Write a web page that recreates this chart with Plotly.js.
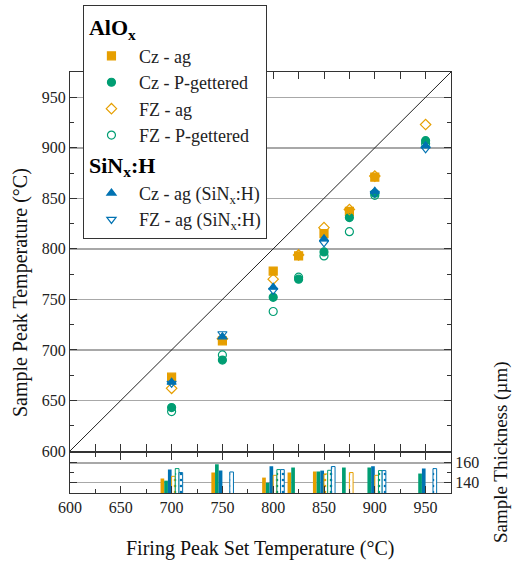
<!DOCTYPE html>
<html>
<head>
<meta charset="utf-8">
<script src="https://cdn.plot.ly/plotly-3.0.1.min.js"></script>
<style>html,body{margin:0;padding:0;background:#fff;}#chart{width:512px;height:563px;}</style>
</head>
<body>
<div id="chart"></div>
<script>
// ---- data ----
const temps = [700, 750, 800, 825, 850, 875, 900, 950];
// sample peak temperatures (°C)
const czAg      = [673, 709, 778, 793, 815, 837, 871, null];
const czP       = [643, 690, 752, 770, 797, 831, 855, 907];
const fzAg      = [662, 711, 770, 794, 821, 839, 872, 923];
const fzP       = [639, 695, 738, 772, 793, 817, 853, 904];
const czAgSiN   = [668, 713, 762, null, 810, null, 857, 902];
const fzAgSiN   = [667, 716, 759, null, 806, null, 855, 899];
// sample thickness (µm)
const thkCzAg    = [144.1, 150.2, 145.1, 150.2, 151.2, null, null, null];
const thkCzP     = [142.0, 158.6, 140.0, 155.3, 151.2, 155.3, 155.3, 149.2];
const thkCzSiN   = [153.2, 152.2, 156.6, null, 152.2, null, 156.6, 154.2];
const thkFzAg    = [146.4, null, 147.4, null, 148.8, 150.2, 147.4, null];
const thkFzP     = [154.2, null, 153.2, null, 152.5, null, 152.2, null];
const thkFzSiN   = [150.2, 150.8, 153.2, null, 156.3, null, 152.2, 154.2];
// identity reference line
const diagonal = [600, 975];

const ORANGE = '#E69F00', GREEN = '#009E73', BLUE = '#0072B2';
const FONT = 'Liberation Serif';

function sc(name, y, symbol, color, group, gtitle) {
  const t = {
    type: 'scatter', mode: 'markers', name: name, x: temps, y: y,
    xaxis: 'x', yaxis: 'y',
    marker: {symbol: symbol, size: 8, color: color, line: {color: color, width: 1.2}},
    legendgroup: group
  };
  if (gtitle) t.legendgrouptitle = {text: gtitle, font: {family: FONT, size: 22, color: '#000'}};
  return t;
}
function bar(y, color, open) {
  const m = open
    ? {color: '#ffffff', line: {color: color, width: 1},
       pattern: {shape: '.', fgcolor: color, bgcolor: '#ffffff', size: 6, solidity: 0.15}}
    : {color: color, line: {width: 0}};
  return {type: 'bar', x: temps, y: y, xaxis: 'x', yaxis: 'y2', marker: m,
          showlegend: false, hoverinfo: 'skip'};
}

const aloxTitle = '<b>AlO<sub>x</sub></b>';
const sinTitle = '<b>SiN<sub>x</sub>:H</b>';

const data = [
  {type: 'scatter', mode: 'lines', x: diagonal, y: diagonal, xaxis: 'x', yaxis: 'y',
   line: {color: '#222', width: 1}, showlegend: false, hoverinfo: 'skip'},
  bar(thkCzAg, ORANGE, false),
  bar(thkCzP, GREEN, false),
  bar(thkCzSiN, BLUE, false),
  bar(thkFzAg, ORANGE, true),
  bar(thkFzP, GREEN, true),
  bar(thkFzSiN, BLUE, true),
  sc('Cz - ag', czAg, 'square', ORANGE, 'alox', aloxTitle),
  sc('Cz - P-gettered', czP, 'circle', GREEN, 'alox'),
  sc('FZ - ag', fzAg, 'diamond-open', ORANGE, 'alox'),
  sc('FZ - P-gettered', fzP, 'circle-open', GREEN, 'alox'),
  sc('Cz - ag (SiN<sub>x</sub>:H)', czAgSiN, 'triangle-up', BLUE, 'sin', sinTitle),
  sc('FZ - ag (SiN<sub>x</sub>:H)', fzAgSiN, 'triangle-down-open', BLUE, 'sin')
];

const axisCommon = {
  showline: true, linecolor: '#333', linewidth: 1,
  ticks: 'inside', tickcolor: '#333', tickwidth: 1,
  tickfont: {family: FONT, size: 16, color: '#222'},
  zeroline: false
};

const layout = {
  width: 512, height: 563,
  margin: {l: 70, r: 61, t: 72, b: 70, autoexpand: false},
  paper_bgcolor: '#fff', plot_bgcolor: '#fff',
  font: {family: FONT, color: '#111'},
  barmode: 'group', bargap: 0.13, bargroupgap: 0,
  showlegend: true,
  legend: {
    x: 0.034, y: 1.159, xanchor: 'left', yanchor: 'top',
    bgcolor: '#fff', bordercolor: '#333', borderwidth: 1,
    font: {family: FONT, size: 18, color: '#222'},
    tracegroupgap: 0, traceorder: 'grouped', itemwidth: 45
  },
  xaxis: Object.assign({}, axisCommon, {
    anchor: 'y2', domain: [0, 1], range: [600, 975],
    tick0: 600, dtick: 50, ticklen: 7, mirror: 'allticks', showgrid: false,
    minor: {dtick: 25, ticks: 'inside', ticklen: 4, tickcolor: '#333', showgrid: false}
  }),
  yaxis: Object.assign({}, axisCommon, {
    anchor: 'x', domain: [0.0998, 1], range: [600, 975],
    tick0: 600, dtick: 50, ticklen: 7, mirror: 'ticks',
    showgrid: true, gridcolor: '#a8a8a8', gridwidth: 1.5,
    minor: {dtick: 25, ticks: 'inside', ticklen: 4, tickcolor: '#333', showgrid: false}
  }),
  yaxis2: Object.assign({}, axisCommon, {
    anchor: 'x', domain: [0, 0.095], range: [129.5, 170], side: 'right',
    tickvals: [140, 160], ticklen: 7, mirror: 'ticks',
    showgrid: true, gridcolor: '#a8a8a8', gridwidth: 1.5,
    minor: {tickvals: [150], ticks: 'inside', ticklen: 4, tickcolor: '#333', showgrid: false}
  }),
  annotations: [
    {text: 'Firing Peak Set Temperature (°C)', xref: 'paper', yref: 'paper',
     x: 0.499, y: -0.131, xanchor: 'center', yanchor: 'middle', showarrow: false,
     font: {family: FONT, size: 20, color: '#111'}},
    {text: 'Sample Peak Temperature (°C)', xref: 'paper', yref: 'paper',
     x: -0.131, y: 0.475, xanchor: 'center', yanchor: 'middle', showarrow: false, textangle: -90,
     font: {family: FONT, size: 20, color: '#111'}},
    {text: 'Sample Thickness (µm)', xref: 'paper', yref: 'paper',
     x: 1.131, y: 0.097, xanchor: 'center', yanchor: 'middle', showarrow: false, textangle: -90,
     font: {family: FONT, size: 19, color: '#111'}}
  ]
};

Plotly.newPlot('chart', data, layout, {displayModeBar: false, staticPlot: true});
</script>
</body>
</html>
